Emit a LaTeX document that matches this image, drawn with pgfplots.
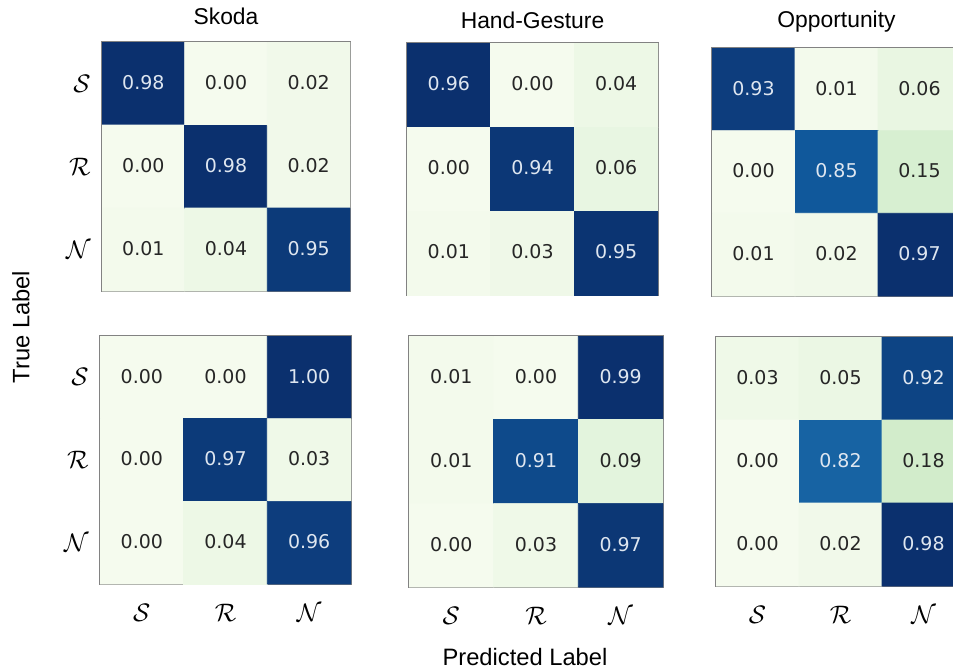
\documentclass[border=0pt]{standalone}
\usepackage{fontspec}
\setmainfont{Liberation Sans}
\newfontfamily\dejavu{DejaVu Sans}
\usepackage{pgfplots}
\pgfplotsset{compat=1.18}

\definecolor{lighttxt}{RGB}{222,230,240}
\definecolor{darktxt}{RGB}{38,38,38}
\definecolor{frame}{RGB}{130,130,130}

\pgfplotsset{
  cmat/.style={
    scale only axis,
    anchor=north west,
    xmin=-0.5, xmax=2.5, ymin=-0.5, ymax=2.5,
    y dir=reverse,
    xtick={0,1,2}, ytick={0,1,2},
    xticklabels={}, yticklabels={},
    major tick length=0pt,
    axis line style={frame, line width=0.8pt},
    colormap={gnbu}{rgb255=(245,251,238) rgb255=(220,241,214) rgb255=(198,231,191)
      rgb255=(162,215,176) rgb255=(115,195,190) rgb255=(70,165,200)
      rgb255=(38,125,180) rgb255=(16,88,155) rgb255=(11,48,110)},
    title style={at={(0.5,1)}, anchor=base, font=\fontsize{13}{15}\selectfont},
    yticklabel style={font=\fontsize{14}{16}\selectfont, xshift=-3pt},
    xticklabel style={font=\fontsize{14}{16}\selectfont, yshift=-7.8pt},
  },
  ylab/.style={yticklabels={$\mathcal{S}$,$\mathcal{R}$,$\mathcal{N}$}},
  xlab/.style={xticklabels={$\mathcal{S}$,$\mathcal{R}$,$\mathcal{N}$}},
  cells/.style={
    matrix plot*, mesh/cols=3, point meta=explicit,
    visualization depends on={value \thisrow{c} \as \cval},
    nodes near coords={\ifdim\cval pt>0.5pt\color{lighttxt}\else\color{darktxt}\fi\cval},
    every node near coord/.append style={anchor=center, yshift=0.3pt,
      font=\dejavu\fontsize{10.8}{12}\selectfont},
  },
}

\begin{document}
\begin{tikzpicture}
\useasboundingbox (0,0) rectangle (19.06cm,-13.38cm);
\clip (0,0) rectangle (19.06cm,-13.38cm);

% top row: Skoda, Hand-Gesture, Opportunity
\begin{axis}[cmat, ylab, at={(2.04cm,-0.84cm)}, width=4.96cm, height=4.98cm,
  title={Skoda}, title style={yshift=0.14cm}]
\addplot[cells] table[meta=c] {
x y c
0 0 0.98
1 0 0.00
2 0 0.02
0 1 0.00
1 1 0.98
2 1 0.02
0 2 0.01
1 2 0.04
2 2 0.95
};
\end{axis}

\begin{axis}[cmat, at={(8.14cm,-0.86cm)}, width=5.02cm, height=5.04cm,
  title={Hand-Gesture}, title style={yshift=0.08cm}]
\addplot[cells] table[meta=c] {
x y c
0 0 0.96
1 0 0.00
2 0 0.04
0 1 0.00
1 1 0.94
2 1 0.06
0 2 0.01
1 2 0.03
2 2 0.95
};
\end{axis}

\begin{axis}[cmat, at={(14.24cm,-0.96cm)}, width=4.98cm, height=4.96cm,
  title={Opportunity}, title style={yshift=0.20cm}]
\addplot[cells] table[meta=c] {
x y c
0 0 0.93
1 0 0.01
2 0 0.06
0 1 0.00
1 1 0.85
2 1 0.15
0 2 0.01
1 2 0.02
2 2 0.97
};
\end{axis}

% bottom row
\begin{axis}[cmat, ylab, xlab, at={(2.00cm,-6.72cm)}, width=5.02cm, height=4.96cm]
\addplot[cells] table[meta=c] {
x y c
0 0 0.00
1 0 0.00
2 0 1.00
0 1 0.00
1 1 0.97
2 1 0.03
0 2 0.00
1 2 0.04
2 2 0.96
};
\end{axis}

\begin{axis}[cmat, xlab, at={(8.18cm,-6.72cm)}, width=5.08cm, height=5.02cm]
\addplot[cells] table[meta=c] {
x y c
0 0 0.01
1 0 0.00
2 0 0.99
0 1 0.01
1 1 0.91
2 1 0.09
0 2 0.00
1 2 0.03
2 2 0.97
};
\end{axis}

\begin{axis}[cmat, xlab, at={(14.32cm,-6.74cm)}, width=4.98cm, height=4.98cm]
\addplot[cells] table[meta=c] {
x y c
0 0 0.03
1 0 0.05
2 0 0.92
0 1 0.00
1 1 0.82
2 1 0.18
0 2 0.00
1 2 0.02
2 2 0.98
};
\end{axis}

\node[rotate=90, font=\fontsize{13.5}{15}\selectfont] at (0.42cm,-6.54cm) {True Label};
\node[font=\fontsize{13.5}{15}\selectfont] at (10.5cm,-13.14cm) {Predicted Label};
\end{tikzpicture}
\end{document}
